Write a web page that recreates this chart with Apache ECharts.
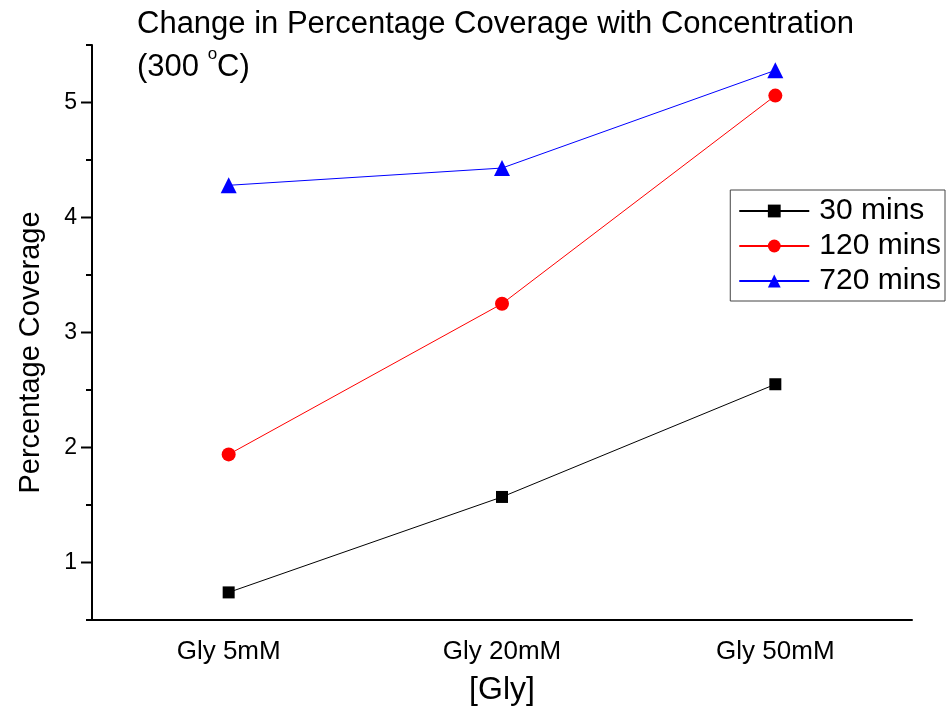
<!DOCTYPE html>
<html><head><meta charset="utf-8">
<script src="https://cdn.jsdelivr.net/npm/echarts@6/dist/echarts.min.js"></script>
<style>html,body{margin:0;padding:0;background:#fff}#c{width:950px;height:717px}</style>
</head><body><div id="c"></div>
<script>
var categories = ['Gly 5mM', 'Gly 20mM', 'Gly 50mM'];
var s30 = [0.74, 1.57, 2.55];
var s120 = [1.94, 3.25, 5.06];
var s720 = [4.28, 4.43, 5.28];
var seriesNames = ['30 mins', '120 mins', '720 mins'];
var F = 'Liberation Sans, Arial, sans-serif';
var chart = echarts.init(document.getElementById('c'));
chart.setOption({
  backgroundColor: '#fff',
  animation: false,
  title: {
    text: 'Change in Percentage Coverage with Concentration\n{n|(300 }{s|o}{n|C)}',
    left: 132, top: -2,
    textStyle: {
      fontFamily: F, fontSize: 31, fontWeight: 'normal', color: '#000', lineHeight: 43,
      rich: {
        n: {fontFamily: F, fontSize: 31, color: '#000', lineHeight: 43},
        s: {fontFamily: F, fontSize: 17, color: '#000', verticalAlign: 'top', lineHeight: 43, padding: [0, 0, 18, 0]}
      }
    }
  },
  legend: {
    right: 5, top: 190,
    orient: 'vertical',
    itemWidth: 70, itemHeight: 16, itemGap: 5,
    padding: [6, 4, 5, 8],
    borderColor: '#444', borderWidth: 1,
    textStyle: {fontFamily: F, fontSize: 30, color: '#000', padding: [0, 0, 0, 5]},
    data: seriesNames
  },
  grid: {left: 92, right: 38, top: 45, bottom: 97, containLabel: false},
  xAxis: {
    type: 'category',
    data: categories,
    boundaryGap: true,
    name: '[Gly]', nameLocation: 'middle', nameGap: 54,
    nameTextStyle: {fontFamily: F, fontSize: 32, color: '#000'},
    axisLine: {lineStyle: {color: '#000', width: 2}},
    axisTick: {alignWithLabel: true, length: 10, lineStyle: {color: '#000', width: 2}},
    axisLabel: {fontFamily: F, fontSize: 26, color: '#000', margin: 19},
    splitLine: {show: false}
  },
  yAxis: {
    type: 'value',
    min: 0.5, max: 5.5, interval: 0.5,
    name: 'Percentage Coverage', nameLocation: 'middle', nameGap: 47,
    nameTextStyle: {fontFamily: F, fontSize: 29, color: '#000', padding: [0, 40, 0, 0]},
    axisLine: {show: true, lineStyle: {color: '#000', width: 2}},
    axisTick: {show: false},
    axisLabel: {
      fontFamily: F, fontSize: 23, color: '#000', margin: 15,
      formatter: function (v) { return (Math.abs(v - Math.round(v)) < 1e-6) ? String(Math.round(v)) : ''; }
    },
    splitLine: {show: false}
  },
  series: [
    {
      name: seriesNames[0], type: 'line', data: s30,
      symbol: 'rect', symbolSize: 12,
      itemStyle: {color: '#000'}, lineStyle: {color: '#000', width: 1}
    },
    {
      name: seriesNames[1], type: 'line', data: s120,
      symbol: 'circle', symbolSize: 14,
      itemStyle: {color: '#ff0000'}, lineStyle: {color: '#ff0000', width: 1}
    },
    {
      name: seriesNames[2], type: 'line', data: s720,
      symbol: 'triangle', symbolSize: 16,
      itemStyle: {color: '#0000ff'}, lineStyle: {color: '#0000ff', width: 1}
    }
  ]
});
var ticks = [];
for (var v = 0.5; v <= 5.5001; v += 0.5) ticks.push(v);
var gr = [];
ticks.forEach(function (v) {
  var p = chart.convertToPixel({yAxisIndex: 0}, v);
  var major = Math.abs(v - Math.round(v)) < 1e-6;
  gr.push({type: 'line', shape: {x1: 92 - (major ? 11 : 6), y1: p, x2: 92, y2: p}, style: {stroke: '#000', lineWidth: 2}});
});
chart.setOption({graphic: gr});
</script>
</body></html>
